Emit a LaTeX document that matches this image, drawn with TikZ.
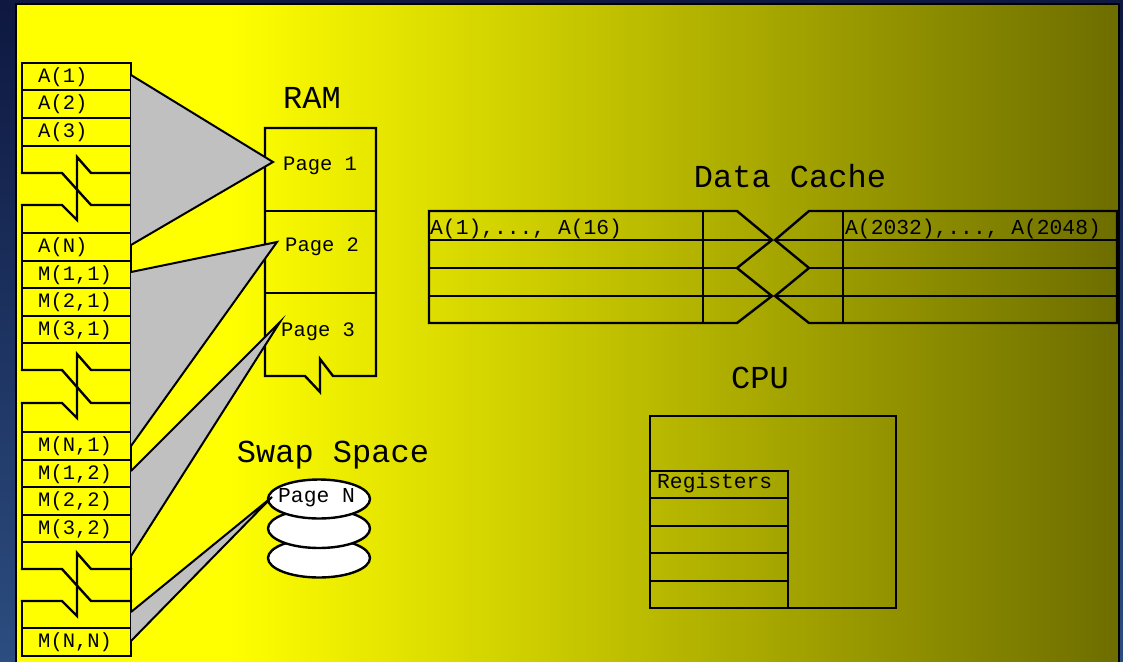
\documentclass[tikz,border=0pt]{standalone}
\usepackage{fontspec}
\newfontfamily\cour{Liberation Mono}
\usetikzlibrary{shapes.geometric}
\definecolor{bgtop}{RGB}{14,24,64}
\definecolor{bgbot}{RGB}{44,77,128}
\definecolor{yel}{RGB}{255,255,0}
\definecolor{oliv}{RGB}{109,109,0}
\definecolor{trigray}{RGB}{192,192,192}
\begin{document}
\begin{tikzpicture}[x=1pt,y=-1pt,
  ln/.style={line width=2.4pt, line join=miter, line cap=rect},
  cellt/.style={inner sep=0pt, anchor=base west, font=\cour\fontsize{20.5}{24}\selectfont},
  smallt/.style={inner sep=0pt, anchor=base west, font=\cour\fontsize{21.3}{24}\selectfont},
  titlet/.style={inner sep=0pt, anchor=base, font=\cour\fontsize{32}{36}\selectfont},
  trifill/.style={fill=trigray},
  triedge/.style={line width=2pt, line join=miter},
  disk/.style={ellipse, draw, line width=2.4pt, fill=white, minimum width=102pt, minimum height=39pt, inner sep=0pt}
]
\useasboundingbox (0,0) rectangle (1123,661);
% background
\shade[top color=bgtop, bottom color=bgbot] (0,0) rectangle (1123,661);
\fill[yel] (16,4) rectangle (230,680);
\shade[left color=yel, right color=oliv] (229,4) rectangle (1119,680);
\draw[line width=2pt, black] (16,4) rectangle (1119,690);

% ---------- memory column ----------
\draw[ln] (22,173) -- (22,63) -- (131,63);
\draw[ln] (131,63) -- (131,656);
\draw[ln] (22,205) -- (22,370);
\draw[ln] (22,403) -- (22,569);
\draw[ln] (22,601) -- (22,656) -- (131,656);
\foreach \y in {90,118,146,233,261,288,316,343,432,460,487,515,542,628}
  \draw[ln] (22,\y) -- (131,\y);
\foreach \t/\b in {173/205,370/403,569/601}{
  \draw[ln] (22,\t) -- (62,\t) -- (91,\b) -- (131,\b);
  \draw[ln] (22,\b) -- (62,\b) -- (77,\b+15) -- (77,\t-16) -- (91,\t) -- (131,\t);
}
\node[cellt] (a1) at (38,82) {A(1)};
\node[cellt] (a2) at (38,109.5) {A(2)};
\node[cellt] (a3) at (38,137) {A(3)};
\node[cellt] (an) at (38,252.5) {A(N)};
\node[cellt] (m11) at (38,280) {M(1,1)};
\node[cellt] (m21) at (38,307.5) {M(2,1)};
\node[cellt] (m31) at (38,335) {M(3,1)};
\node[cellt] (mn1) at (38,451.5) {M(N,1)};
\node[cellt] (m12) at (38,479) {M(1,2)};
\node[cellt] (m22) at (38,506.5) {M(2,2)};
\node[cellt] (m32) at (38,534) {M(3,2)};
\node[cellt] (mnn) at (38,647.5) {M(N,N)};

% ---------- RAM ----------
\node[titlet] (ramt) at (312,108) {RAM};
\draw[ln] (265,376) -- (265,128) -- (376,128) -- (376,376) -- (333,376) -- (320,359) -- (320,392) -- (305,376) -- cycle;
\draw[ln] (265,211) -- (376,211);
\draw[ln] (265,293) -- (376,293);

% ---------- Swap space ----------
\node[titlet] (swapt) at (333,462) {Swap Space};
\node[disk] (d3) at (319,558) {};
\node[disk] (d2) at (319,528.5) {};
\node[disk] (d1) at (319,499) {};

% ---------- mapping triangles ----------
\coordinate (t1a) at (131,75);  \coordinate (t1tip) at (273,162); \coordinate (t1b) at (131,245);
\coordinate (t2a) at (131,272); \coordinate (t2tip) at (277,242); \coordinate (t2b) at (131,446);
\coordinate (t3a) at (131,471); \coordinate (t3tip) at (280,322); \coordinate (t3b) at (131,556);
\coordinate (t4a) at (131,612); \coordinate (t4tip) at (272,497); \coordinate (t4b) at (131,641);
\foreach \k in {1,2,3,4}{
  \fill[trifill] (t\k a) -- (t\k tip) -- (t\k b) -- cycle;
  \draw[triedge] (t\k a) -- (t\k tip) -- (t\k b);
}

\node[cellt] (p1) at (283,170) {Page 1};
\node[cellt] (p2) at (285,251) {Page 2};
\node[cellt] (p3) at (281,336) {Page 3};
\node[smallt] (pn) at (278,502) {Page N};

% ---------- Data cache ----------
\node[titlet] (cachet) at (790,187) {Data Cache};
\draw[ln] (429,211) -- (737,211) -- (772,240) -- (737,268) -- (772,296) -- (737,323) -- (429,323) -- cycle;
\draw[ln] (429,240) -- (772,240);
\draw[ln] (429,268) -- (737,268);
\draw[ln] (429,296) -- (772,296);
\draw[ln] (703,211) -- (703,323);
\draw[ln] (1117,211) -- (809,211) -- (775,240) -- (809,268) -- (775,296) -- (809,323) -- (1117,323) -- cycle;
\draw[ln] (775,240) -- (1117,240);
\draw[ln] (809,268) -- (1117,268);
\draw[ln] (775,296) -- (1117,296);
\draw[ln] (843,211) -- (843,323);
\node[smallt] (c1) at (430,234) {A(1),..., A(16)};
\node[smallt] (c2) at (845,234) {A(2032),..., A(2048)};

% ---------- CPU ----------
\node[titlet] (cput) at (760,388) {CPU};
\draw[ln] (650,416) rectangle (896,608);
\draw[ln] (650,471) -- (788,471) -- (788,608);
\foreach \y in {498,526,553,581}
  \draw[ln] (650,\y) -- (788,\y);
\node[smallt] (regs) at (657,488) {Registers};
\end{tikzpicture}
\end{document}
